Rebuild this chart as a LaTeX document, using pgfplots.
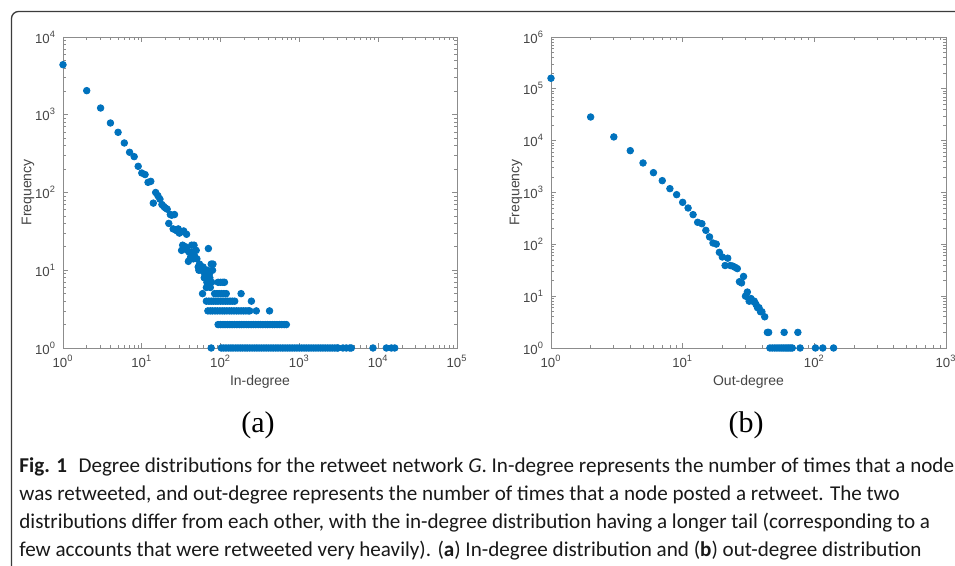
\documentclass[border=0pt]{standalone}
\usepackage{fontspec}
\setmainfont{Liberation Sans}
\newfontfamily\capfont{Carlito}
\newfontfamily\abfont{Liberation Serif}
\usepackage{pgfplots}
\pgfplotsset{compat=1.18}
\definecolor{mblue}{RGB}{0,114,189}
\definecolor{axgray}{RGB}{140,140,140}
\definecolor{lblgray}{RGB}{70,70,70}
\definecolor{framegray}{RGB}{60,60,60}

\pgfplotsset{
  every axis/.append style={
    scale only axis,
    height=155.5pt,
    anchor=south west,
    axis line style={draw=axgray, line width=0.45pt},
    every tick/.style={draw=axgray, line width=0.35pt},
    major tick length=2.6pt,
    minor tick length=1.3pt,
    tick align=inside,
    tick label style={font=\fontsize{6.6}{7}\selectfont, text=lblgray},
    label style={font=\fontsize{7}{8}\selectfont, text=lblgray},
    xlabel style={at={([yshift=-17pt]axis description cs:0.5,0)}, anchor=center},
    ylabel style={at={([xshift=-17.5pt]axis description cs:0,0.5)}, anchor=center},
    clip=false,
  },
}

\begin{document}
\begin{tikzpicture}
\useasboundingbox (0,0) rectangle (477.5pt,283pt);
\fill[white] (0,0) rectangle (477.5pt,283pt);
\draw[framegray, line width=0.65pt, rounded corners=3.5pt]
  (5.75pt,-10pt) -- (5.75pt,277.25pt) -- (495pt,277.25pt);

% (a) in-degree
\begin{axis}[
  xmode=log, ymode=log,
  width=197pt,
  at={(31.5pt,109pt)},
  xmin=1, xmax=100000, ymin=1, ymax=10000,
  xtick={1,10,100,1000,10000,100000},
  xticklabels={10\textsuperscript{0},10\textsuperscript{1},10\textsuperscript{2},10\textsuperscript{3},10\textsuperscript{4},10\textsuperscript{5}},
  ytick={1,10,100,1000,10000},
  yticklabels={10\textsuperscript{0},10\textsuperscript{1},10\textsuperscript{2},10\textsuperscript{3},10\textsuperscript{4}},
  xlabel={In-degree},
  ylabel={Frequency},
]
\addplot[only marks, mark=*, mark size=1.65pt, color=mblue] coordinates {
(1,4400)(2,2040)(3,1220)(4,783)(5,594)(6,433)(7,329)(8,289)(9,217)(10,178)
(11,170)(12,135)(13,139)(14,73)(15,100)(16,91)(17,82)(18,70)(19,66)(20,63)
(21,61)(22,40)(23,52)(24,51)(25,34)(26,52)(27,33)(28,32)(29,34)(30,30)
(31,31)(32,18)(33,21)(34,32)(35,19)(36,20)(37,29)(38,18)(39,13)(40,17)
(41,14)(42,15)(43,21)(44,17)(45,14)(46,21)(47,15)(49,18)(50,14)(52,11)
(53,10)(54,12)(55,11)(57,10)(59,5)(60,11)(62,8)(63,9)(64,10)(66,6)
(67,7)(68,10)(69,8)(70,19)(71,7)(72,9)(73,8)(74,6)(76,12)(77,7)(79,10)(80,12)
};
\addplot[only marks, mark=*, mark size=1.65pt, color=mblue] coordinates {
(93,7)(100,7)(107,7)(112,7)
(84,5)(90,5)(96,5)(103,5)(110,5)(118,5)(182,5)
(66,4)(71,4)(76,4)(81,4)(87,4)(93,4)(100,4)(107,4)(115,4)(123,4)(132,4)(141,4)(151,4)(246,4)
(69,3)(74,3)(79,3)(85,3)(91,3)(98,3)(105,3)(112,3)(120,3)(129,3)(138,3)(148,3)
(159,3)(170,3)(182,3)(195,3)(209,3)(224,3)(234,3)(284,3)(418,3)
};
\addplot[only marks, mark=*, mark size=1.65pt, color=mblue] coordinates {
(93,2)(100,2)(107,2)(114,2)(122,2)(131,2)(140,2)(150,2)(161,2)(173,2)
(185,2)(198,2)(212,2)(227,2)(244,2)(261,2)(280,2)(300,2)(321,2)(344,2)
(369,2)(395,2)(423,2)(454,2)(486,2)(521,2)(558,2)(598,2)(641,2)(683,2)
};
\addplot[only marks, mark=*, mark size=1.65pt, color=mblue] coordinates {
(76,1)(102,1)(109,1)(117,1)(126,1)(135,1)(144,1)(155,1)(166,1)(178,1)(190,1)
(204,1)(218,1)(234,1)(251,1)(269,1)(288,1)(308,1)(330,1)(354,1)(379,1)
(406,1)(435,1)(466,1)(500,1)(535,1)(574,1)(615,1)(659,1)(706,1)(756,1)
(810,1)(868,1)(930,1)(997,1)(1068,1)(1145,1)(1226,1)(1314,1)(1408,1)(1509,1)
(1617,1)(1732,1)(1856,1)(1989,1)(2131,1)(2283,1)(2446,1)(2621,1)(2809,1)(3010,1)
(3090,1)(3570,1)(3940,1)(4350,1)(4560,1)(8590,1)(12700,1)(14700,1)(16200,1)
};
\end{axis}

% (b) out-degree
\begin{axis}[
  xmode=log, ymode=log,
  width=197.5pt,
  at={(275.5pt,109pt)},
  xmin=1, xmax=1000, ymin=1, ymax=1000000,
  xtick={1,10,100,1000},
  xticklabels={10\textsuperscript{0},10\textsuperscript{1},10\textsuperscript{2},10\textsuperscript{3}},
  ytick={1,10,100,1000,10000,100000,1000000},
  yticklabels={10\textsuperscript{0},10\textsuperscript{1},10\textsuperscript{2},10\textsuperscript{3},10\textsuperscript{4},10\textsuperscript{5},10\textsuperscript{6}},
  xlabel={Out-degree},
  ylabel={Frequency},
]
\addplot[only marks, mark=*, mark size=1.65pt, color=mblue] coordinates {
(1,160000)(2,28600)(3,11800)(4,6410)(5,3710)(6,2413)(7,1692)(8,1186)(9,908)(10,646)
(11,502)(12,374)(13,266)(14,250)(15,186)(16,139)(17,106)(18,101)(19,70)(20,57)
(21,39)(22,54)(23,39)(24,38)(25,36)(26,34)(27,19)(28,18)(29,24)(30,10)
(31,12)(32,8)(33,9)(34,8)(35,8)(36,7)(37,6)(38,6)(39,5)(40,5)(42,4)
(44,2)(45,2)(46,1)(48,1)(50,1)(52,1)(54,1)(56,1)(58,1)(59,2)(60,1)
(62,1)(64,1)(66,1)(68,1)(75,2)(78,1)(102,1)(116,1)(140,1)
};
\end{axis}

\node[font=\abfont\fontsize{15}{17}\selectfont] at (129pt,70.5pt) {(a)};
\node[font=\abfont\fontsize{15}{17}\selectfont] at (373pt,70.5pt) {(b)};

\begin{scope}[every node/.style={anchor=base west, inner sep=0pt,
    font=\capfont\fontsize{10.55}{12}\selectfont, text=black!90}]
\node at (9.5pt,46.5pt) {\textbf{Fig. 1}\hspace{0.55em}Degree distributions for the retweet network \textit{G}. In-degree represents the number of times that a node};
\node at (9.5pt,32.5pt) {was retweeted, and out-degree represents the number of times that a node posted a retweet. The two};
\node at (9.5pt,18.6pt) {distributions differ from each other, with the in-degree distribution having a longer tail (corresponding to a};
\node at (9.5pt,4.9pt) {few accounts that were retweeted very heavily). (\textbf{a}) In-degree distribution and (\textbf{b}) out-degree distribution};
\end{scope}
\end{tikzpicture}
\end{document}
